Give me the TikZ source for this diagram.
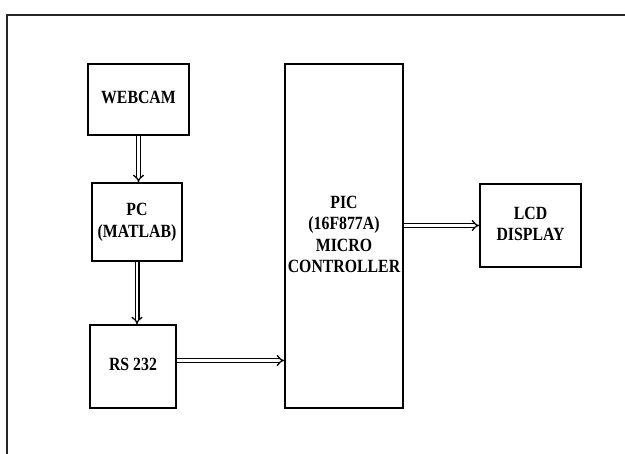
\documentclass[tikz,border=0pt]{standalone}
\usepackage{fontspec}
\setmainfont{Liberation Serif}
\usepackage{tikz}
\usetikzlibrary{arrows.meta}
\newcommand{\talltext}[1]{\scalebox{1}[1.18]{\begin{tabular}{@{}c@{}}#1\end{tabular}}}

\begin{document}
\begin{tikzpicture}[
    x=1pt, y=-1pt,
    blockb/.style={rectangle, draw=black, line width=1.4pt, inner sep=0pt, align=center, font=\fontsize{15.8}{18.2}\selectfont\bfseries},
    dblarrow/.style={double, double distance=2.4pt, line width=1.3pt, -{Implies[scale=1.2]}}
]
    \useasboundingbox (0,0) rectangle (625,454);
    % frame lines
    \draw[line width=1.2pt, draw=black!85] (625,15) -- (7,15) -- (7,454);

    \node[blockb, minimum width=101pt, minimum height=71pt] (webcam) at (138.5,99.5) {\talltext{WEBCAM}};
    \node[blockb, minimum width=90pt, minimum height=78pt] (pc) at (137,222) {\talltext{PC\\(MATLAB)}};
    \node[blockb, minimum width=86pt, minimum height=83pt] (rs232) at (133,366.5) {\talltext{RS 232}};
    \node[blockb, minimum width=118pt, minimum height=344pt] (pic) at (344,236) {\talltext{PIC\\(16F877A)\\MICRO\\CONTROLLER}};
    \node[blockb, minimum width=101pt, minimum height=83pt] (lcd) at (530.5,225.5) {\talltext{LCD\\DISPLAY}};

    \draw[dblarrow] (webcam.south) -- (webcam.south |- pc.north);
    \draw[dblarrow] (pc.south) -- (pc.south |- rs232.north);
    \draw[dblarrow] ([yshift=6pt]rs232.east) -- ([yshift=6pt]rs232.east -| pic.west);
    \draw[dblarrow] (lcd.west -| pic.east) -- (lcd.west);
\end{tikzpicture}
\end{document}
